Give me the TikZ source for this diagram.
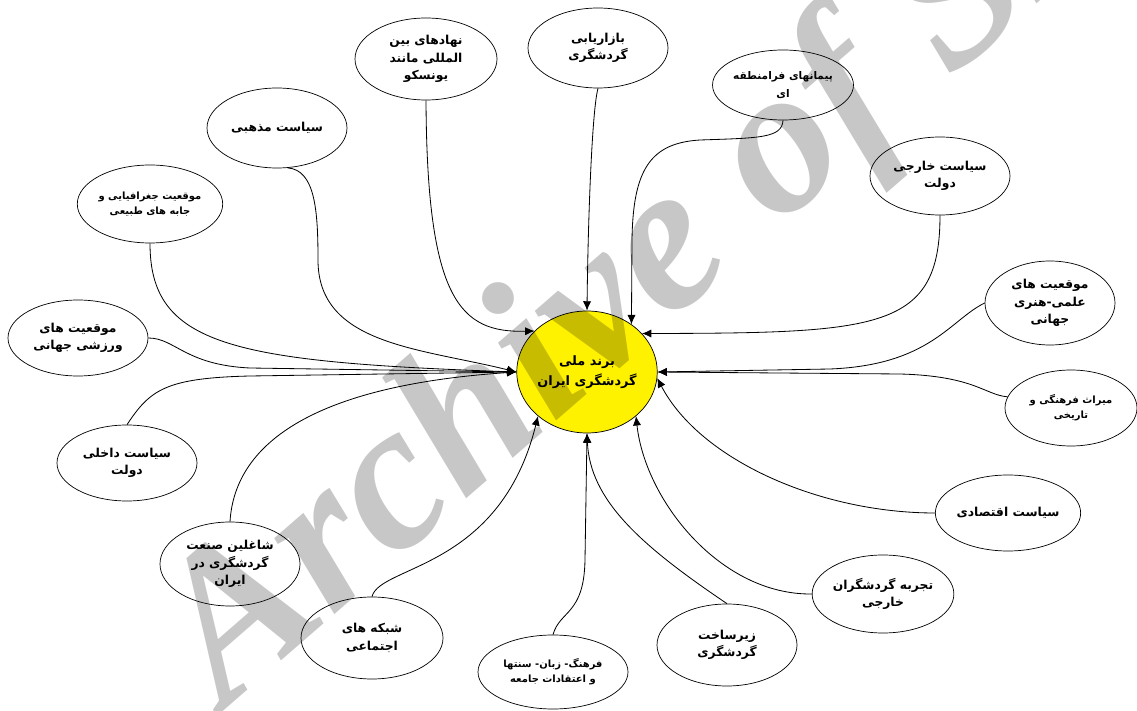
\documentclass[tikz,border=0pt]{standalone}
\usepackage{fontspec}
\usetikzlibrary{shapes.geometric,arrows.meta}
\TeXXeTstate=1
\newfontfamily\farsifont[Script=Arabic]{DejaVu Sans}
\newfontfamily\markfont{Liberation Serif}
\newcommand{\fa}[1]{\beginR #1\endR}
\begin{document}
\begin{tikzpicture}[x=0.03cm, y=-0.03cm,
  part/.style={ellipse, draw, fill=white, line width=0.6pt, inner sep=0pt,
    minimum width=4.2cm, minimum height=2.4cm, align=center,
    font=\farsifont\bfseries\fontsize{10.5}{15}\selectfont},
  small/.style={font=\farsifont\bfseries\fontsize{8.5}{13}\selectfont},
  core/.style={part, fill=yellow, minimum width=4.05cm, minimum height=3.66cm,
    font=\farsifont\bfseries\fontsize{11}{17}\selectfont},
  link/.style={-{Latex[length=8pt,width=7pt]}, line width=0.7pt}]
  \useasboundingbox (0,0) rectangle (1137,711);
  %Central brand
  \node[core] (brand) at (587,372) {\fa{برند ملی}\\\fa{گردشگری ایران}};
  %Factors on top
  \node[part] (bazar) at (598,48) {\fa{بازاریابی}\\\fa{گردشگری}};
  \node[part, minimum width=4.26cm, minimum height=2.46cm] (nahad) at (426,59)
    {\fa{نهادهای بین}\\\fa{المللی مانند}\\\fa{یونسکو}};
  \node[part, minimum height=2.1cm, font=\farsifont\bfseries\fontsize{9}{15}\selectfont] (peyman) at (783,85)
    {\fa{پیمانهای فرامنطقه}\\\fa{ای}};
  \node[part] (mazhabi) at (277,128) {\fa{سیاست مذهبی}};
  \node[part, minimum height=2.34cm] (khareji) at (940,176) {\fa{سیاست خارجی}\\\fa{دولت}};
  %Factors on the left
  \node[part, small, minimum height=2.34cm] (joghrafi) at (150,204)
    {\fa{موقعیت جغرافیایی و}\\\fa{جابه های طبیعی}};
  \node[part, minimum height=2.28cm] (varzeshi) at (78,338) {\fa{موقعیت های}\\\fa{ورزشی جهانی}};
  \node[part, minimum height=2.28cm] (dakheli) at (127,463) {\fa{سیاست داخلی}\\\fa{دولت}};
  \node[part, minimum height=2.52cm] (shaghelin) at (230,564)
    {\fa{شاغلین صنعت}\\\fa{گردشگری در}\\\fa{ایران}};
  %Factors at the bottom
  \node[part, minimum width=4.26cm, minimum height=2.46cm] (shabake) at (372,638)
    {\fa{شبکه های}\\\fa{اجتماعی}};
  \node[part, small, minimum width=4.5cm, minimum height=2.22cm] (farhang) at (553,672)
    {\fa{فرهنگ- زبان- سنتها}\\\fa{و اعتقادات جامعه}};
  \node[part, minimum height=2.46cm] (zirsakht) at (727,645) {\fa{زیرساخت}\\\fa{گردشگری}};
  \node[part, minimum height=2.34cm] (tajrobe) at (883,594) {\fa{تجربه گردشگران}\\\fa{خارجی}};
  %Factors on the right
  \node[part, minimum height=2.28cm] (eghtesadi) at (1008,513) {\fa{سیاست اقتصادی}};
  \node[part, small, minimum width=3.96cm, minimum height=2.28cm] (miras) at (1071,408)
    {\fa{میراث فرهنگی و}\\\fa{تاریخی}};
  \node[part, minimum width=3.9cm, minimum height=2.52cm] (elmi) at (1050,303)
    {\fa{موقعیت های}\\\fa{علمی-هنری}\\\fa{جهانی}};
  %Links into the brand
  \draw[link] (bazar.south) .. controls (592,110) and (588,220) .. (brand.north);
  \draw[link] (nahad.south) .. controls (427,300) and (460,333) .. (brand.142);
  \draw[link] (peyman.south) .. controls (782,138) and (760,138) .. (700,140)
    .. controls (650,143) and (633,170) .. (632,240) -- (brand.47);
  \draw[link] (khareji.south) .. controls (940,330) and (880,333) .. (brand.35);
  \draw[link] (elmi.west) .. controls (950,320) and (930,365) .. (830,369) -- (brand.east);
  \draw[link] (miras.170) .. controls (985,395) and (975,376) .. (900,374) -- (brand.east);
  \draw[link] (eghtesadi.west) .. controls (820,513) and (700,460) .. (brand.-5);
  \draw[link] (tajrobe.west) .. controls (720,595) and (645,500) .. (brand.-42);
  \draw[link] (zirsakht.north) .. controls (640,545) and (590,500) .. (brand.south);
  \draw[link] (farhang.north) .. controls (560,610) and (584,615) .. (585,560) -- (brand.south);
  \draw[link] (shabake.north) .. controls (380,565) and (500,570) .. (brand.-138);
  \draw[link] (shaghelin.north) .. controls (235,440) and (320,385) .. (brand.west);
  \draw[link] (dakheli.north) .. controls (150,390) and (165,378) .. (250,376) -- (brand.west);
  \draw[link] (varzeshi.east) .. controls (175,338) and (185,365) .. (250,368) -- (brand.west);
  \draw[link] (joghrafi.south) .. controls (150,345) and (230,362) .. (brand.west);
  \draw[link] (mazhabi.-75) .. controls (315,170) and (318,210) .. (318,260)
    .. controls (318,345) and (420,348) .. (brand.west);
  %Watermark
  \node[anchor=base west, rotate=41, text=black, text opacity=0.22,
    font=\markfont\bfseries\itshape\fontsize{180}{180}\selectfont] (mark) at (222,712) {Archive of SID};
\end{tikzpicture}
\end{document}
